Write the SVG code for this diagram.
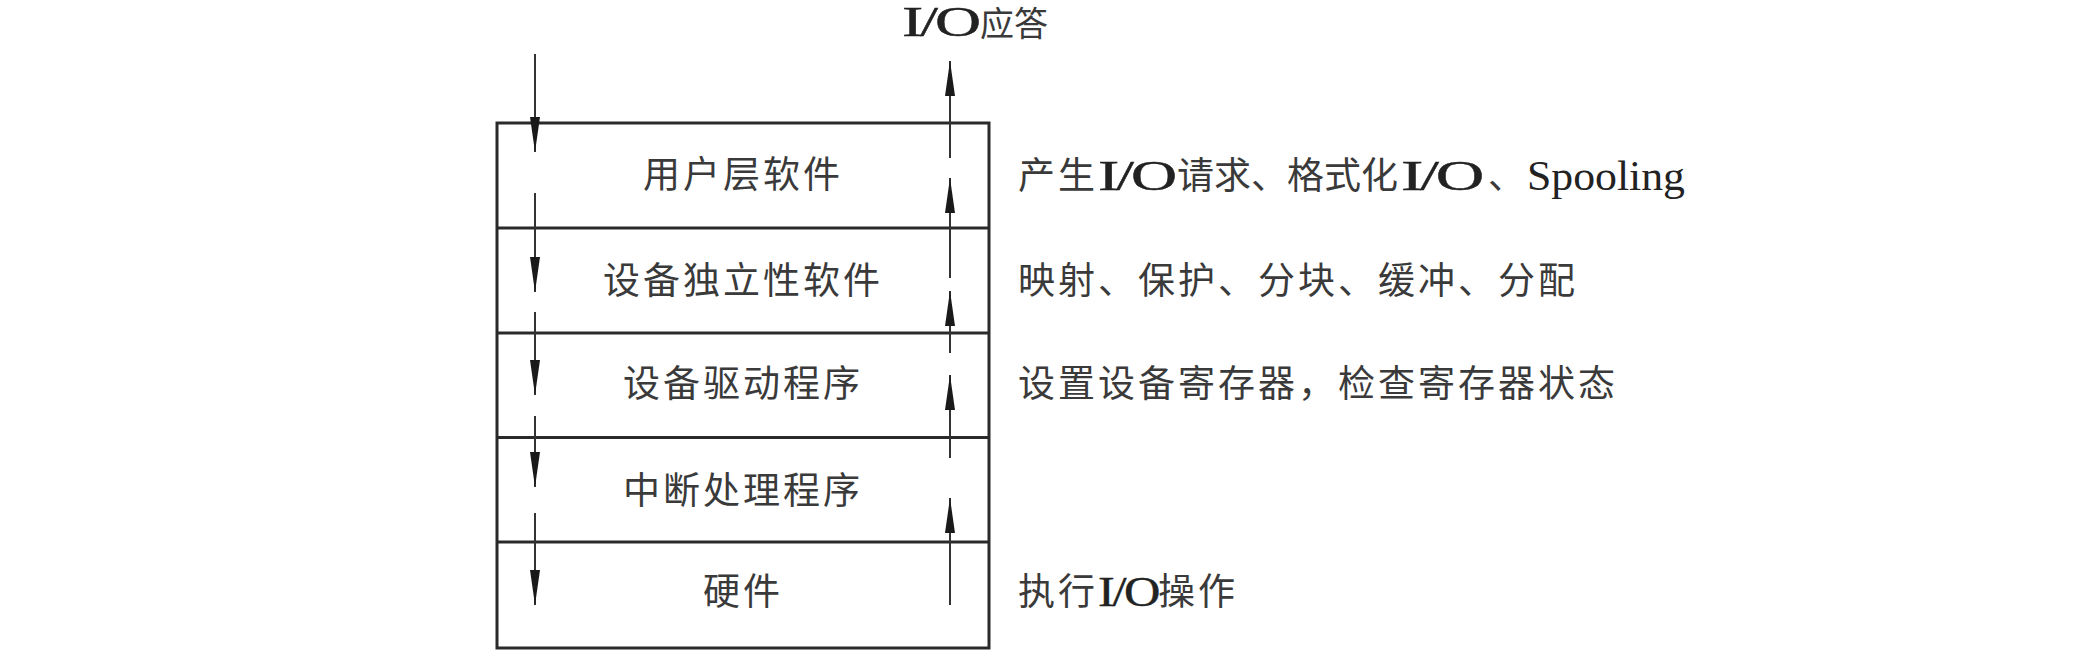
<svg xmlns="http://www.w3.org/2000/svg" width="2074" height="664" viewBox="0 0 2074 664">
<style>
.frame{fill:none;stroke:#2a2a2a;stroke-width:3}
.div{stroke:#2a2a2a;stroke-width:3}
.arr{stroke:#333;stroke-width:2;fill:none}
.cn{font-family:"Noto Sans CJK SC","Noto Sans",sans-serif;font-size:37px;letter-spacing:3px;fill:#3a3a3a}
.lat{font-family:"Liberation Serif","Times New Roman",serif;font-size:42px;fill:#222}
.io{letter-spacing:-2px;stroke:#222;stroke-width:0.4px}
.mid{text-anchor:middle}
</style>
<defs>
<marker id="ah" viewBox="0 -6 36 12" refX="35" refY="0" markerWidth="36" markerHeight="12" markerUnits="userSpaceOnUse" orient="auto">
<path d="M0,-5 L35,0 L0,5 Z" fill="#1a1a1a"/>
</marker>
</defs>
<rect width="2074" height="664" fill="#fff"/>
<g id="stack">
<rect class="frame" x="497" y="123" width="492" height="525"/>
<line class="div" x1="497" y1="228" x2="989" y2="228"/>
<line class="div" x1="497" y1="333" x2="989" y2="333"/>
<line class="div" x1="497" y1="437.5" x2="989" y2="437.5"/>
<line class="div" x1="497" y1="542" x2="989" y2="542"/>
</g>
<g id="layer-user"><text class="cn mid" x="743" y="188">用户层软件</text></g>
<g id="layer-indep"><text class="cn mid" x="743" y="294">设备独立性软件</text></g>
<g id="layer-driver"><text class="cn mid" x="743" y="397">设备驱动程序</text></g>
<g id="layer-irq"><text class="cn mid" x="743" y="504">中断处理程序</text></g>
<g id="layer-hw"><text class="cn mid" x="743" y="605">硬件</text></g>
<g id="connectors">
<line class="arr" x1="535" y1="54" x2="535" y2="152" marker-end="url(#ah)"/>
<line class="arr" x1="535" y1="193" x2="535" y2="292" marker-end="url(#ah)"/>
<line class="arr" x1="535" y1="312" x2="535" y2="395" marker-end="url(#ah)"/>
<line class="arr" x1="535" y1="416" x2="535" y2="487" marker-end="url(#ah)"/>
<line class="arr" x1="535" y1="513" x2="535" y2="605" marker-end="url(#ah)"/>
<line class="arr" x1="950" y1="158" x2="950" y2="61" marker-end="url(#ah)"/>
<line class="arr" x1="950" y1="278" x2="950" y2="178" marker-end="url(#ah)"/>
<line class="arr" x1="950" y1="353" x2="950" y2="291" marker-end="url(#ah)"/>
<line class="arr" x1="950" y1="458" x2="950" y2="375" marker-end="url(#ah)"/>
<line class="arr" x1="950" y1="605" x2="950" y2="498" marker-end="url(#ah)"/>
</g>
<g id="label-response">
<text class="lat io" x="902" y="36" textLength="76" lengthAdjust="spacingAndGlyphs">I/O</text>
<text class="cn" x="980" y="36" style="font-size:34px;letter-spacing:0">应答</text>
</g>
<g id="label-user">
<text class="cn" x="1018" y="189">产生</text>
<text class="lat io" x="1098" y="190" textLength="76" lengthAdjust="spacingAndGlyphs">I/O</text>
<text class="cn" x="1177" y="189" style="letter-spacing:0">请求、</text>
<text class="cn" x="1287" y="189" style="letter-spacing:0">格式化</text>
<text class="lat io" x="1401" y="190" textLength="80" lengthAdjust="spacingAndGlyphs">I/O</text>
<text class="cn" x="1488" y="189" style="letter-spacing:0">、</text>
<text class="lat" x="1527" y="190" textLength="158" lengthAdjust="spacingAndGlyphs">Spooling</text>
</g>
<g id="label-indep"><text class="cn" x="1018" y="294">映射、保护、分块、缓冲、分配</text></g>
<g id="label-driver"><text class="cn" x="1018" y="397">设置设备寄存器，检查寄存器状态</text></g>
<g id="label-hw">
<text class="cn" x="1018" y="605">执行</text>
<text class="lat io" x="1098" y="606" textLength="60" lengthAdjust="spacingAndGlyphs">I/O</text>
<text class="cn" x="1158" y="605">操作</text>
</g>
</svg>
